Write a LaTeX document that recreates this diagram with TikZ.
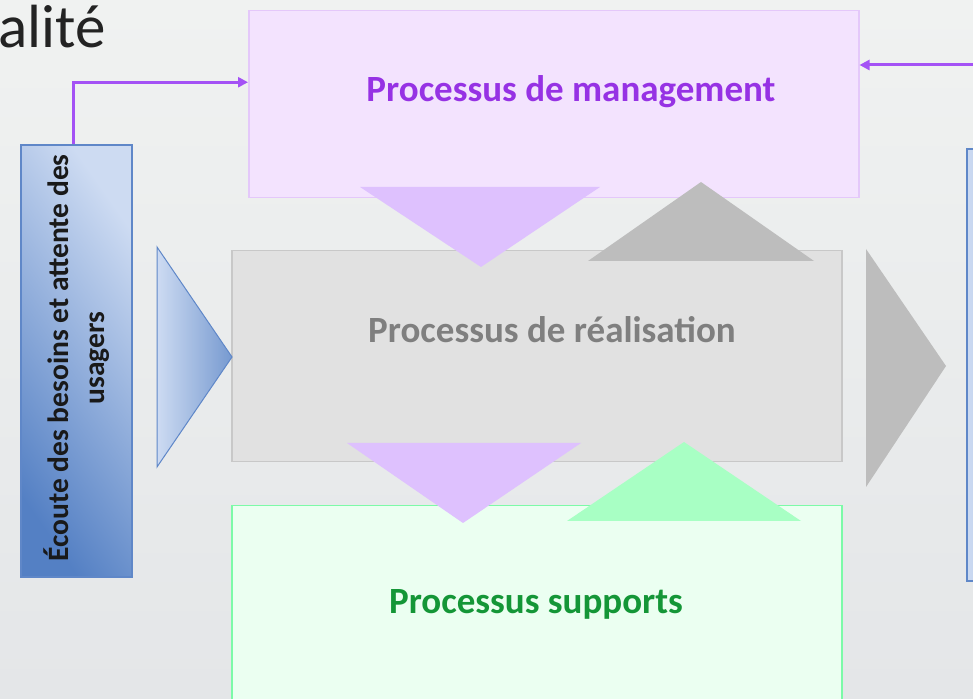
\documentclass[tikz,border=0pt]{standalone}
\usepackage{fontspec}
\setmainfont{Carlito}
\usetikzlibrary{arrows.meta}
\definecolor{bgtop}{RGB}{240,242,241}
\definecolor{bgbot}{RGB}{228,230,232}
\definecolor{mgfill}{RGB}{243,227,254}
\definecolor{mgline}{RGB}{228,200,250}
\definecolor{mgtext}{RGB}{150,50,228}
\definecolor{rlfill}{RGB}{225,225,225}
\definecolor{rlline}{RGB}{200,200,200}
\definecolor{rltext}{RGB}{127,127,127}
\definecolor{spfill}{RGB}{235,255,241}
\definecolor{spline}{RGB}{124,250,168}
\definecolor{sptext}{RGB}{20,150,55}
\definecolor{purtri}{RGB}{222,193,254}
\definecolor{graytri}{RGB}{189,189,189}
\definecolor{greentri}{RGB}{168,255,196}
\definecolor{bluedark}{RGB}{84,128,196}
\definecolor{bluelight}{RGB}{205,219,242}
\definecolor{blueline}{RGB}{95,135,200}
\definecolor{arrowpur}{RGB}{164,82,245}
\definecolor{titlecol}{RGB}{35,35,35}
\tikzset{
  procbox/.style={draw, line width=1.5pt, inner sep=0pt, minimum width=610pt},
  proctext/.style={font=\fontsize{37}{44}\selectfont\bfseries},
  flow/.style={draw=arrowpur, line width=3pt, -{Triangle[length=10pt,width=10pt]}},
  bluebox/.style={draw=blueline, line width=1.5pt, inner sep=0pt},
}
\begin{document}
\begin{tikzpicture}[x=1pt,y=1pt]
\useasboundingbox (0,0) rectangle (973,698);
\clip (0,0) rectangle (973,698);
\shade[top color=bgtop, bottom color=bgbot] (0,0) rectangle (973,698);
% title
\node[anchor=base west, inner sep=0pt, text=titlecol, font=\fontsize{61}{66}\selectfont] (title) at (-2,650) {alité};
% boxes
\node[procbox, draw=mgline, fill=mgfill, minimum height=187pt, anchor=north west] (mg) at (248,688) {};
\node[proctext, text=mgtext] (mgt) at (571,606) {Processus de management};
\node[procbox, draw=rlline, fill=rlfill, minimum height=211pt, anchor=north west] (rl) at (231,448) {};
\node[proctext, text=rltext] (rlt) at (552,368) {Processus de réalisation};
\node[procbox, draw=spline, fill=spfill, minimum height=230pt, anchor=north west] (sp) at (231,193) {};
\node[proctext, text=sptext] (spt) at (536,94) {Processus supports};
% triangles between boxes
\fill[purtri] (360,511) -- (600,511) -- (481,431) -- cycle;
\fill[graytri] (588,437) -- (814,437) -- (701,516) -- cycle;
\fill[purtri] (347,255) -- (581,255) -- (463,175) -- cycle;
\fill[greentri] (567,177) -- (801,177) -- (684,256) -- cycle;
% left blue box
\shade[left color=bluedark, right color=bluelight, shading angle=125] (20,120) rectangle (131,552);
\node[bluebox, minimum width=111pt, minimum height=432pt, anchor=south west] (lb) at (20,120) {};
\node[rotate=90, align=center, text=black!90, font=\fontsize{29.5}{36}\selectfont\bfseries] (lbt) at (77,340) {Écoute des besoins et attente des\\usagers};
% left triangle
\shade[left color=bluelight, right color=bluedark!80, draw=blueline, line width=1pt] (157,451) -- (157,231) -- (232,341) -- cycle;
% right gray triangle
\fill[graytri] (866,449) -- (866,211) -- (946,332) -- cycle;
% right blue box
\shade[left color=bluelight, right color=bluelight!80!bluedark] (966,116) rectangle (995,548);
\node[bluebox, minimum width=29pt, minimum height=432pt, anchor=south west] (rb) at (966,116) {};
% arrows
\coordinate (rin) at (980,633);
\draw[flow] ([xshift=-3pt]lb.north) |- ([yshift=22pt]mg.west);
\draw[flow] (rin) -- (rin -| mg.east);
\end{tikzpicture}
\end{document}
